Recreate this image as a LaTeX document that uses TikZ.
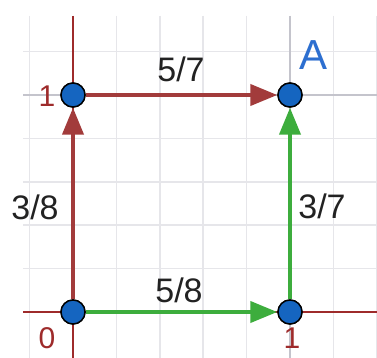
\documentclass[tikz,border=0pt]{standalone}
\usepackage{fontspec}
\setmainfont{Liberation Sans}
\usetikzlibrary{arrows.meta}
\definecolor{axred}{HTML}{9E2B2B}
\definecolor{arred}{HTML}{A23B3B}
\definecolor{argreen}{HTML}{3DAD3D}
\definecolor{ptblue}{HTML}{1565C0}
\definecolor{gridc}{HTML}{E6E6EA}
\definecolor{gridd}{HTML}{C4C4CC}
\definecolor{txt}{HTML}{222222}
\definecolor{lblue}{HTML}{2D6FD0}
\tikzset{
  pt/.style={circle, draw=black, line width=1.4pt, fill=ptblue, minimum size=24pt, inner sep=0pt},
  vec/.style={line width=4pt, -{Triangle[length=27pt,width=21pt]}},
  lab/.style={font=\fontsize{34}{34}\selectfont, text=txt, inner sep=0pt},
  axlab/.style={font=\fontsize{30}{30}\selectfont, text=axred, inner sep=0pt},
}
\begin{document}
\begin{tikzpicture}[x=1pt,y=-1pt]
\useasboundingbox (0,0) rectangle (377,358);
\fill[white] (0,0) rectangle (377,358);
% grid
\foreach \k in {-1,...,7} {
  \draw[gridc, line width=1.5pt] ({73+43.4*\k},16) -- ({73+43.4*\k},358);
}
\foreach \k in {0,...,6} {
  \draw[gridc, line width=1.5pt] (23,{312-43.4*\k}) -- (377,{312-43.4*\k});
}
\draw[gridd, line width=1.8pt] (290,16) -- (290,358);
\draw[gridd, line width=1.8pt] (23,95) -- (377,95);
% axes
\draw[axred, line width=2pt] (23,312) -- (377,312);
\draw[axred, line width=2pt] (73,16) -- (73,358);
% points
\node[pt] (O) at (73,312) {};
\node[pt] (P) at (73,95) {};
\node[pt] (Q) at (290,312) {};
\node[pt] (A) at (290,95) {};
% vectors
\draw[vec, arred] (O) -- (P);
\draw[vec, arred] (P) -- (A);
\draw[vec, argreen] (O) -- (Q);
\draw[vec, argreen] (Q) -- (A);
% redraw points on top
\node[pt] at (73,312) {};
\node[pt] at (73,95) {};
\node[pt] at (290,312) {};
\node[pt] at (290,95) {};
% labels
\node[lab] (l57) at (181,69) {5/7};
\node[lab] (l38) at (35,207) {3/8};
\node[lab] (l37) at (322,206) {3/7};
\node[lab] (l58) at (179,290) {5/8};
\node[font=\fontsize{42}{42}\selectfont, text=lblue, inner sep=0pt] (lA) at (314,55) {A};
\node[axlab] (y1) at (47,96) {1};
\node[axlab] (x0) at (47,338) {0};
\node[axlab] (x1) at (292,338) {1};
\end{tikzpicture}
\end{document}
